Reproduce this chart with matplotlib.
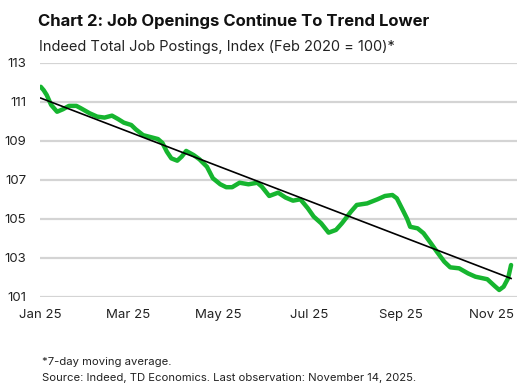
import numpy as np
import matplotlib
matplotlib.use("Agg")
import matplotlib.pyplot as plt

# Indeed total job postings index, 7-day MA (days since Jan 1 2025)
days = [0, 2, 4, 7, 11, 15, 19, 24, 27, 33, 38, 43, 48, 52, 56, 61, 64, 69, 73,
        79, 82, 85, 88, 92, 95, 98, 103, 107, 112, 116, 121, 125, 129, 134, 140,
        146, 149, 154, 160, 165, 170, 175, 180, 184, 189, 194, 199, 203, 209,
        213, 220, 227, 232, 237, 240, 244, 247, 249, 254, 258, 263, 267, 272,
        276, 282, 288, 293, 301, 306, 309, 312, 315, 317]
values = [111.78, 111.6, 111.36, 110.85, 110.5, 110.63, 110.8, 110.8, 110.68,
          110.42, 110.25, 110.2, 110.3, 110.13, 109.94, 109.82, 109.6, 109.3,
          109.22, 109.1, 108.9, 108.45, 108.11, 107.99, 108.2, 108.49, 108.28,
          108.06, 107.68, 107.09, 106.78, 106.63, 106.63, 106.86, 106.78,
          106.86, 106.66, 106.18, 106.35, 106.1, 105.94, 106.01, 105.55,
          105.12, 104.78, 104.3, 104.44, 104.78, 105.37, 105.72, 105.8, 106.01,
          106.18, 106.23, 106.06, 105.46, 105.0, 104.6, 104.52, 104.27, 103.75,
          103.32, 102.81, 102.52, 102.47, 102.21, 102.04, 101.91, 101.56,
          101.36, 101.53, 101.96, 102.64]

# linear trend endpoints
trend_days = [0, 317]
trend_values = [111.2, 101.95]

yticks = [101, 103, 105, 107, 109, 111, 113]
xtick_dates = ["2025-01-01", "2025-03-01", "2025-05-01", "2025-07-01",
               "2025-09-01", "2025-11-01"]
xtick_labels = ["Jan 25", "Mar 25", "May 25", "Jul 25", "Sep 25", "Nov 25"]

base = np.datetime64("2025-01-01")
dates = base + np.array(days, dtype="timedelta64[D]")
tdates = base + np.array(trend_days, dtype="timedelta64[D]")

plt.rcParams["font.family"] = ["Inter", "DejaVu Sans"]

fig = plt.figure(figsize=(5.17, 3.86), dpi=100)
ax = fig.add_axes([0.0774, 0.2306, 0.9226, 0.6062])

ax.plot(dates, values, color="#16b52f", lw=3.2, solid_capstyle="round",
        solid_joinstyle="round", zorder=3)
ax.plot(tdates, trend_values, color="black", lw=1.2, zorder=4)

ax.set_ylim(101, 113)
ax.set_yticks(yticks)
ax.set_xlim(np.datetime64("2024-12-31T12"), np.datetime64("2025-11-18"))
ax.set_xticks([np.datetime64(d) for d in xtick_dates])
ax.set_xticklabels(xtick_labels)

ax.grid(axis="y", color="#d4d4d4", lw=1.6, zorder=0)
ax.set_axisbelow(True)
for s in ax.spines.values():
    s.set_visible(False)
ax.tick_params(length=0, labelsize=9.5, colors="#222222")
ax.tick_params(axis="y", pad=10)
ax.tick_params(axis="x", pad=9)

fig.text(0.073, 0.945, "Chart 2: Job Openings Continue To Trend Lower",
         fontsize=12, fontweight="bold", color="#111111", va="center")
fig.text(0.075, 0.878, "Indeed Total Job Postings, Index (Feb 2020 = 100)*",
         fontsize=10.5, color="#222222", va="center")
fig.text(0.081, 0.063, "*7-day moving average.", fontsize=8.1,
         color="#222222", va="center")
fig.text(0.081, 0.021, "Source: Indeed, TD Economics. Last observation: November 14, 2025.",
         fontsize=8.1, color="#222222", va="center")

fig.savefig("out.png", dpi=100)
